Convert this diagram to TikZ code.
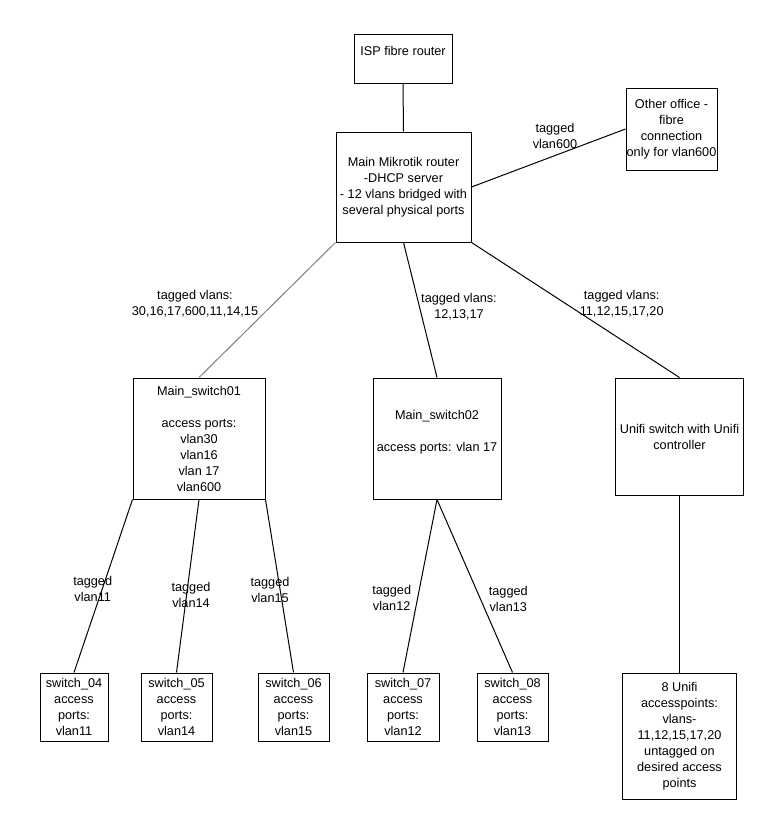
\documentclass[tikz,border=0pt]{standalone}
\usepackage{fontspec}
\setmainfont{Liberation Sans}
\begin{document}
\begin{tikzpicture}[x=1pt,y=-1pt,
  every node/.style={font=\fontsize{12.7}{16}\selectfont, align=center, inner sep=0pt},
  box/.style={draw=black, line width=1pt},
  conn/.style={draw=black, line width=1pt},
  greyconn/.style={draw=gray, line width=1pt},
  lbl/.style={}]
\useasboundingbox[fill=white] (0,0) rectangle (783,827);

% boxes
\node[box, minimum width=98pt, minimum height=49pt] (isp) at (403,58.5) {ISP fibre router\\\mbox{}};
\node[box, minimum width=135pt, minimum height=110pt] (router) at (403.5,187) {Main Mikrotik router\\-DHCP server\\- 12 vlans bridged with\\several physical ports};
\node[box, minimum width=91pt, minimum height=82pt] (other) at (671.5,129) {Other office -\\fibre\\connection\\only for vlan600};
\node[box, minimum width=132pt, minimum height=121pt] (sw1) at (199,438.5) {Main\_switch01\\\mbox{}\\access ports:\\vlan30\\vlan16\\vlan 17\\vlan600};
\node[box, minimum width=128pt, minimum height=121pt] (sw2) at (437,438.5) {Main\_switch02\\\mbox{}\\access ports: vlan 17\\\mbox{}};
\node[box, minimum width=128pt, minimum height=117pt] (unifi) at (679.5,436.5) {Unifi switch with Unifi\\controller};
\node[box, minimum width=68pt, minimum height=68pt] (s4) at (74,707) {switch\_04\\access\\ports:\\vlan11};
\node[box, minimum width=71pt, minimum height=68pt] (s5) at (176.5,707) {switch\_05\\access\\ports:\\vlan14};
\node[box, minimum width=71pt, minimum height=68pt] (s6) at (293.5,707) {switch\_06\\access\\ports:\\vlan15};
\node[box, minimum width=72pt, minimum height=68pt] (s7) at (403,707) {switch\_07\\access\\ports:\\vlan12};
\node[box, minimum width=71pt, minimum height=68pt] (s8) at (512.5,707) {switch\_08\\access\\ports:\\vlan13};
\node[box, minimum width=114pt, minimum height=126pt] (ap) at (679.5,736) {8 Unifi\\accesspoints:\\vlans-\\11,12,15,17,20\\untagged on\\desired access\\points};

% connectors
\draw[conn] (isp.south) -- (router.north);
\draw[conn] (router.east) -- (other.west);
\draw[greyconn] (router.south west) -- (sw1.north);
\draw[conn] (router.south) -- (sw2.north);
\draw[conn] (router.south east) -- (unifi.north);
\draw[conn] (sw1.south west) -- (s4.north);
\draw[conn] (sw1.south) -- (s5.north);
\draw[conn] (sw1.south east) -- (s6.north);
\draw[conn] (sw2.south) -- (s7.north);
\draw[conn] (sw2.south) -- (s8.north);
\draw[conn] (unifi.south) -- (ap.north);

% labels
\node[lbl] (l600) at (555,136) {tagged\\vlan600};
\node[lbl] (lsw1) at (195,303.5) {tagged vlans:\\30,16,17,600,11,14,15};
\node[lbl] (lsw2) at (459,306.5) {tagged vlans:\\12,13,17};
\node[lbl] (lunifi) at (621.7,303.5) {tagged vlans:\\11,12,15,17,20};
\node[lbl] (l11) at (92.7,588.5) {tagged\\vlan11};
\node[lbl] (l14) at (191,594.5) {tagged\\vlan14};
\node[lbl] (l15) at (270,590.3) {tagged\\vlan15};
\node[lbl] (l12) at (391.7,597.5) {tagged\\vlan12};
\node[lbl] (l13) at (508.3,599) {tagged\\vlan13};
\end{tikzpicture}
\end{document}
